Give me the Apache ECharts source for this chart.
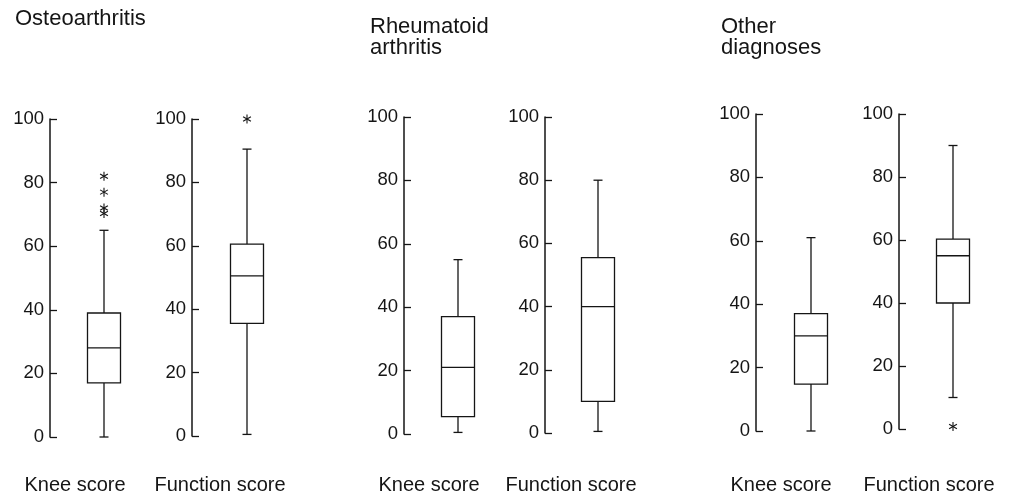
<!DOCTYPE html>
<html>
<head>
<meta charset="utf-8">
<style>html,body{margin:0;padding:0;background:#fff;}#c{width:1011px;height:495px;}</style>
<script src="https://cdn.jsdelivr.net/npm/echarts@6/dist/echarts.min.js"></script>
</head>
<body>
<div id="c"></div>
<script>
// ---- data ----
const panelTitles = ['Osteoarthritis', 'Rheumatoid\narthritis', 'Other\ndiagnoses'];
const scoreLabels = ['Knee score', 'Function score'];
const yTicks = [0, 20, 40, 60, 80, 100];
// [lower whisker, Q1, median, Q3, upper whisker]
const oaKnee = [0, 17, 28, 39, 65];
const oaFunction = [0.5, 35.5, 50.5, 60.5, 90.5];
const raKnee = [0.5, 5.5, 21, 37, 55];
const raFunction = [0.5, 10, 40, 55.5, 80];
const otherKnee = [0, 14.8, 30, 37, 61];
const otherFunction = [10, 40, 55, 60.3, 90];
// outliers (asterisks)
const oaKneeOutliers = [82, 77, 72, 70.3];
const oaFunctionOutliers = [100];
const raKneeOutliers = [];
const raFunctionOutliers = [];
const otherKneeOutliers = [];
const otherFunctionOutliers = [0.8];

const boxes = [oaKnee, oaFunction, raKnee, raFunction, otherKnee, otherFunction];
const outliers = [oaKneeOutliers, oaFunctionOutliers, raKneeOutliers, raFunctionOutliers, otherKneeOutliers, otherFunctionOutliers];

// ---- layout (positions only) ----
const gridLayout = [
  {left: 50, top: 119, height: 318, width: 108},
  {left: 192, top: 119, height: 317, width: 110},
  {left: 404, top: 117, height: 317, width: 108},
  {left: 545, top: 117, height: 316, width: 106},
  {left: 756, top: 114, height: 317, width: 110},
  {left: 899, top: 114, height: 315, width: 108}
];
const titlePos = [{left: 15, top: 8}, {left: 370, top: 16}, {left: 721, top: 16}];
const labelCenters = [75, 220, 429, 571, 781, 929];
const labelTop = 475;
const boxWidth = 33, capWidth = 9;
const ink = '#151515';
const font = "'Liberation Sans', Arial, sans-serif";

const grid = [], xAxis = [], yAxis = [], series = [], title = [];
panelTitles.forEach((t, i) => {
  title.push({text: t, left: titlePos[i].left, top: titlePos[i].top, padding: 0,
    textStyle: {fontSize: 22, fontWeight: 'normal', fontFamily: font, color: ink, lineHeight: 21}});
});
boxes.forEach((b, i) => {
  const g = gridLayout[i];
  grid.push({left: g.left, top: g.top, width: g.width, height: g.height, containLabel: false});
  xAxis.push({type: 'category', gridIndex: i, data: [scoreLabels[i % 2]], show: false});
  yAxis.push({type: 'value', gridIndex: i, min: yTicks[0], max: yTicks[yTicks.length - 1], interval: 20,
    axisLine: {show: true, lineStyle: {color: ink, width: 1.5}},
    axisTick: {show: true, inside: true, length: 7, lineStyle: {color: ink, width: 1.3}},
    splitLine: {show: false},
    axisLabel: {fontSize: 18.5, fontFamily: font, color: ink, margin: 6}
  });
  title.push({text: scoreLabels[i % 2], left: labelCenters[i], top: labelTop, textAlign: 'center', padding: 0,
    textStyle: {fontSize: 20, fontWeight: 'normal', fontFamily: font, color: ink, lineHeight: 20}});
  series.push({
    type: 'custom', xAxisIndex: i, yAxisIndex: i, silent: true,
    data: [[0].concat(b)],
    encode: {x: 0, y: [1, 2, 3, 4, 5]},
    renderItem: function (params, api) {
      const x = api.value(0);
      const p = [1, 2, 3, 4, 5].map(k => api.coord([x, api.value(k)]));
      const cx = p[0][0];
      const hw = boxWidth / 2, hc = capWidth / 2;
      const st = {stroke: ink, lineWidth: 1.3, fill: null};
      return {type: 'group', children: [
        {type: 'line', shape: {x1: cx, y1: p[0][1], x2: cx, y2: p[1][1]}, style: st},
        {type: 'line', shape: {x1: cx, y1: p[3][1], x2: cx, y2: p[4][1]}, style: st},
        {type: 'line', shape: {x1: cx - hc, y1: p[0][1], x2: cx + hc, y2: p[0][1]}, style: st},
        {type: 'line', shape: {x1: cx - hc, y1: p[4][1], x2: cx + hc, y2: p[4][1]}, style: st},
        {type: 'rect', shape: {x: cx - hw, y: p[3][1], width: boxWidth, height: p[1][1] - p[3][1]}, style: {stroke: ink, lineWidth: 1.3, fill: '#fff'}},
        {type: 'line', shape: {x1: cx - hw, y1: p[2][1], x2: cx + hw, y2: p[2][1]}, style: st}
      ]};
    }
  });
  if (outliers[i].length) {
    series.push({
      type: 'custom', xAxisIndex: i, yAxisIndex: i, silent: true,
      data: outliers[i].map(v => [0, v]),
      encode: {x: 0, y: 1},
      renderItem: function (params, api) {
        const p = api.coord([api.value(0), api.value(1)]);
        const r = 4.5;
        const st = {stroke: ink, lineWidth: 1.1};
        const ch = [90, 30, -30].map(a => {
          const rad = a * Math.PI / 180;
          const dx = r * Math.cos(rad), dy = r * Math.sin(rad);
          return {type: 'line', shape: {x1: p[0] - dx, y1: p[1] - dy, x2: p[0] + dx, y2: p[1] + dy}, style: st};
        });
        return {type: 'group', children: ch};
      }
    });
  }
});

const chart = echarts.init(document.getElementById('c'), null, {renderer: 'canvas'});
chart.setOption({backgroundColor: '#fff', animation: false, title, grid, xAxis, yAxis, series});
</script>
</body>
</html>
